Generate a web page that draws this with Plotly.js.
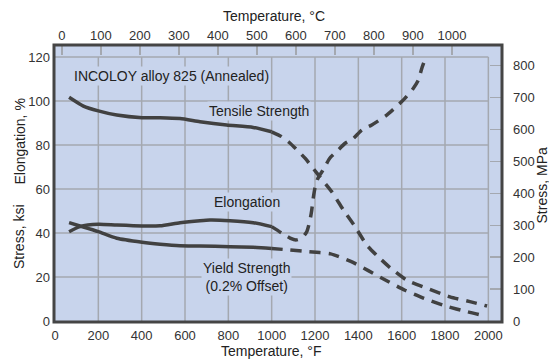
<!DOCTYPE html>
<html>
<head>
<meta charset="utf-8">
<script src="https://cdn.plot.ly/plotly-3.0.1.min.js"></script>
<style>html,body{margin:0;padding:0;background:#fff;}#chart{width:549px;height:361px;}</style>
</head>
<body>
<div id="chart"></div>
<script>
// ---- data (ksi / % vs °F) ----
const tensileSolidF = [65, 131, 200, 285, 402, 485, 577, 669, 792, 915, 1000];
const tensileSolidKsi = [101.7, 97.7, 95.5, 93.6, 92.4, 92.4, 92.0, 90.6, 89.1, 88.0, 86.0];
const tensileDashF = [1000, 1046, 1085, 1154, 1215, 1277, 1331, 1385, 1439, 1485, 1546, 1623, 1716, 1823, 1915, 1994];
const tensileDashKsi = [86.0, 83.8, 80.8, 74.0, 66.4, 58.8, 50.5, 42.9, 34.5, 29.8, 24.3, 18.6, 14.9, 11.0, 8.8, 6.8];

const elongSolidF = [65, 115, 200, 285, 402, 485, 577, 669, 715, 808, 915, 1000];
const elongSolidPct = [40.6, 42.9, 44.0, 43.6, 43.2, 43.3, 44.7, 45.6, 45.9, 45.6, 44.7, 42.9];
const elongDashF = [1000, 1046, 1085, 1112, 1139, 1162, 1177, 1185, 1192, 1200, 1214, 1237, 1269, 1300, 1339, 1377, 1416, 1462, 1531, 1608, 1654, 1677, 1693, 1710];
const elongDashPct = [42.9, 40.0, 37.7, 36.8, 37.7, 40.6, 45.9, 50.5, 55.9, 60.5, 65.0, 68.6, 74.1, 77.0, 80.8, 83.0, 86.8, 89.1, 93.6, 100.5, 105.8, 109.5, 114.9, 119.5];

const yieldSolidF = [65, 115, 200, 285, 402, 485, 577, 669, 808, 915, 1000];
const yieldSolidKsi = [44.7, 43.2, 40.6, 37.6, 35.8, 34.9, 34.2, 34.1, 33.8, 33.5, 33.0];
const yieldDashF = [1000, 1080, 1172, 1272, 1365, 1446, 1531, 1615, 1703, 1803, 1903, 1985];
const yieldDashKsi = [33.0, 32.3, 31.5, 30.5, 27.1, 22.9, 18.3, 14.0, 10.3, 6.8, 4.2, 2.3];

// ---- tick labels ----
const tickF = [0, 200, 400, 600, 800, 1000, 1200, 1400, 1600, 1800, 2000];
const tickC = [0, 100, 200, 300, 400, 500, 600, 700, 800, 900, 1000];
const tickKsi = [0, 20, 40, 60, 80, 100, 120];
const tickMPa = [0, 100, 200, 300, 400, 500, 600, 700, 800];

// ---- styling ----
const bg = 'rgb(200,212,236)';
const gridCol = '#a4a8b0';
const lineCol = '#414141';
const txtCol = '#222222';
const FONT = 'Liberation Sans, Arial, sans-serif';
const KSI_TO_MPA = 6.895;

const xMin = -4.6, xMax = 2063;
const yMin = -0.45, yMax = 125.45;

function tr(x, y, dashed) {
  return {x: x, y: y, type: 'scatter', mode: 'lines', xaxis: 'x', yaxis: 'y',
    line: {color: lineCol, width: 3.5, shape: 'spline', smoothing: 0.6, dash: dashed ? '11px,8px' : 'solid'},
    hoverinfo: 'skip', showlegend: false};
}

const data = [
  tr(tensileSolidF, tensileSolidKsi, false),
  tr(tensileDashF, tensileDashKsi, true),
  tr(elongSolidF, elongSolidPct, false),
  tr(elongDashF, elongDashPct, true),
  tr(yieldSolidF, yieldSolidKsi, false),
  tr(yieldDashF, yieldDashKsi, true),
  // invisible traces to activate secondary axes
  {x: [], y: [], xaxis: 'x2', yaxis: 'y', type: 'scatter', showlegend: false},
  {x: [], y: [], xaxis: 'x', yaxis: 'y2', type: 'scatter', showlegend: false}
];

const gridMaxF = tickF[tickF.length - 1];
const gridMaxY = tickKsi[tickKsi.length - 1];
const shapes = [];
tickF.slice(1).forEach(v => shapes.push({type: 'line', xref: 'x', yref: 'y', x0: v, x1: v, y0: 0, y1: gridMaxY, layer: 'below', line: {color: gridCol, width: 1.5}}));
tickKsi.slice(1).forEach(v => shapes.push({type: 'line', xref: 'x', yref: 'y', x0: 0, x1: gridMaxF, y0: v, y1: v, layer: 'below', line: {color: gridCol, width: 1.5}}));
shapes.push({type: 'rect', xref: 'paper', yref: 'paper', x0: 0, x1: 1, y0: 0, y1: 1, layer: 'above', line: {color: '#454545', width: 3}});

function lab(text, x, y, opts) {
  return Object.assign({text: text, x: x, y: y, xref: 'x', yref: 'y', showarrow: false,
    font: {family: FONT, size: 14, color: txtCol}, bgcolor: bg, borderpad: 1}, opts || {});
}
function ttl(text, x, y, angle) {
  return {text: text, x: x, y: y, xref: 'paper', yref: 'paper', showarrow: false, textangle: angle || 0,
    xanchor: 'center', yanchor: 'middle', font: {family: FONT, size: 14, color: txtCol}};
}

const annotations = [
  lab('INCOLOY alloy 825 (Annealed)', 77, 111.4, {xanchor: 'left'}),
  lab('Tensile Strength', 942, 95.5),
  lab('Elongation', 888, 54.2),
  lab('Yield Strength<br>(0.2% Offset)', 885, 19.8),
  ttl('Temperature, °F', 0.4855, -0.106),
  ttl('Temperature, °C', 0.49, 1.1047),
  ttl('Elongation, %', -0.078, 0.6516, -90),
  ttl('Stress, ksi', -0.078, 0.307, -90),
  ttl('Stress, MPa', 1.0915, 0.4928, -90)
];

const layout = {
  width: 549, height: 361,
  margin: {l: 54, r: 47, t: 45, b: 39, pad: 0},
  paper_bgcolor: '#ffffff', plot_bgcolor: bg,
  font: {family: FONT, size: 13, color: '#333333'},
  showlegend: false,
  xaxis: {range: [xMin, xMax], tickvals: tickF, ticktext: tickF.map(String), showgrid: false, zeroline: false,
    showline: false, ticks: '', ticklabelstandoff: 4, fixedrange: true},
  xaxis2: {overlaying: 'x', side: 'top', range: [(xMin - 32) / 1.8, (xMax - 32) / 1.8], tickvals: tickC, ticktext: tickC.map(String),
    showgrid: false, zeroline: false, showline: false, ticks: 'inside', ticklen: 10, tickwidth: 1.5, tickcolor: gridCol, ticklabelstandoff: 1},
  yaxis: {range: [yMin, yMax], tickvals: tickKsi, ticktext: tickKsi.map(String), showgrid: false, zeroline: false,
    showline: false, ticks: '', ticklabelstandoff: 3},
  yaxis2: {overlaying: 'y', side: 'right', range: [yMin * KSI_TO_MPA, yMax * KSI_TO_MPA], tickvals: tickMPa, ticktext: tickMPa.map(String),
    showgrid: false, zeroline: false, showline: false, ticks: 'inside', ticklen: 12, tickwidth: 1.5, tickcolor: gridCol, ticklabelstandoff: 10},
  shapes: shapes,
  annotations: annotations
};

Plotly.newPlot('chart', data, layout, {staticPlot: true, displayModeBar: false});
</script>
</body>
</html>
